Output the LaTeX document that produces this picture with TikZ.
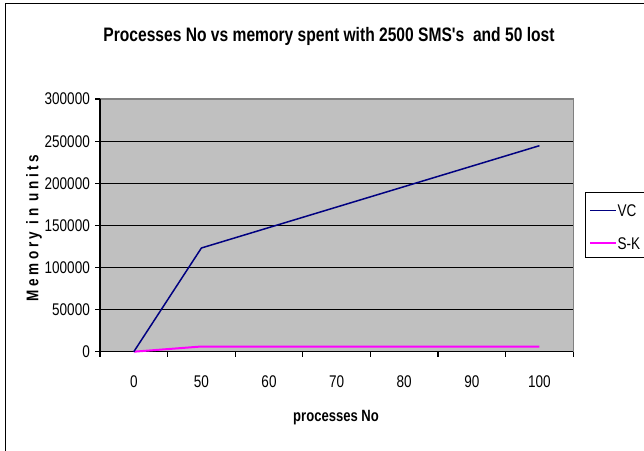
\documentclass[tikz,border=0pt]{standalone}
\usepackage{fontspec}
\newfontfamily\chartfont[FakeStretch=0.8]{Liberation Sans}
\newfontfamily\spacedfont[FakeStretch=0.8,LetterSpace=21]{Liberation Sans}
\definecolor{plotgray}{HTML}{C0C0C0}
\definecolor{bordergray}{HTML}{808080}
\definecolor{vcblue}{HTML}{000080}
\definecolor{skmag}{HTML}{FF00FF}
\tikzset{
  ticklabel/.style={inner sep=0pt},
  gridline/.style={black,line width=1.1bp},
  axisline/.style={black,line width=1.1bp},
  vcline/.style={vcblue,line width=1.5bp},
  skline/.style={skmag,line width=2bp},
}
\begin{document}
\begin{tikzpicture}[x=1bp,y=-1bp,font=\chartfont\fontsize{16.9bp}{20bp}\selectfont]
\useasboundingbox (0,0) rectangle (644,451);
\begin{scope}
  \clip (0,0) rectangle (644,451);
  \draw[black,line width=1bp] (5,4) rectangle (720,520);
  \draw[black,line width=1bp,fill=white] (585,192.3) rectangle (700,257.7);
\end{scope}
% plot area
\fill[plotgray] (100,99) rectangle (573.3,351.7);
\draw[bordergray,line width=1.1bp] (100,99) -- (573.3,99) -- (573.3,351.7);
\foreach \v/\y in {50000/309.6,100000/267.5,150000/225.4,200000/183.3,250000/141.2}{
  \draw[gridline] (100,\y) -- (573.3,\y);
}
\draw[axisline] (100,99) -- (100,351.7) -- (573.3,351.7);
\foreach \v/\y in {0/351.7,50000/309.6,100000/267.5,150000/225.4,200000/183.3,250000/141.2,300000/99}{
  \draw[axisline] (95,\y) -- (100,\y);
  \node[ticklabel,anchor=east] (yl\v) at (90,\y) {\v};
}
\foreach \x in {100,167.6,235.2,302.8,370.4,438,505.6,573.3}{
  \draw[axisline] (\x,351.7) -- (\x,357);
}
\foreach \l/\x in {0/133.8,50/201.4,60/269,70/336.6,80/404.2,90/471.8,100/539.4}{
  \node[ticklabel] (xl\l) at (\x,382) {\l};
}
% data
\coordinate (vc0) at (133.8,351.7);
\coordinate (vc50) at (201.4,248);
\coordinate (vc100) at (539.4,145.7);
\coordinate (sk0) at (133.8,351.7);
\coordinate (sk50) at (201.4,346.5);
\coordinate (sk100) at (539.4,346.5);
\draw[skline] (sk0) -- (sk50) -- (sk100);
\draw[vcline] (vc0) -- (vc50) -- (vc100);
% titles
\node[font=\chartfont\bfseries\fontsize{19.5bp}{23bp}\selectfont] (title) at (329,36) {Processes No vs memory spent with 2500 SMS's\ \ and 50 lost};
\node[font=\chartfont\bfseries\fontsize{16.3bp}{19bp}\selectfont] (xtitle) at (336,418) {processes No};
\node[rotate=90,font=\spacedfont\bfseries\fontsize{16.9bp}{20bp}\selectfont] (ytitle) at (34,228) {Memory in units};
% legend
\coordinate (lvca) at (590,210.7);
\coordinate (lvcb) at (616,210.7);
\coordinate (lska) at (590,243.3);
\coordinate (lskb) at (616,243.3);
\draw[vcline] (lvca) -- (lvcb);
\draw[skline] (lska) -- (lskb);
\node[ticklabel,anchor=west] (lvc) at (617.5,210.7) {VC};
\node[ticklabel,anchor=west] (lsk) at (617.5,243.3) {S-K};
\end{tikzpicture}
\end{document}
